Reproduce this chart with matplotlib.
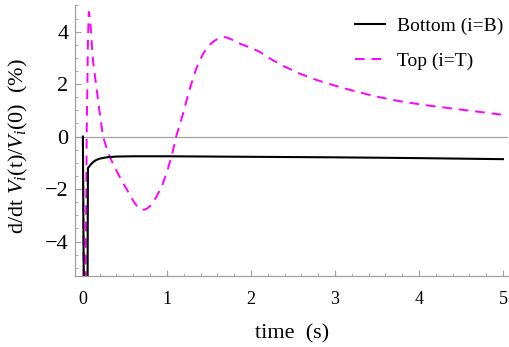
import matplotlib
matplotlib.use("Agg")
import matplotlib.pyplot as plt
from matplotlib.ticker import MultipleLocator

plt.rcParams["font.family"] = ["Liberation Serif", "DejaVu Serif"]
plt.rcParams["mathtext.fontset"] = "custom"
plt.rcParams["mathtext.rm"] = "Liberation Serif"
plt.rcParams["mathtext.it"] = "Liberation Serif:italic"

# Bottom (i=B), values in %
t_bottom = [0, 0.012, 0.055, 0.06, 0.08, 0.10, 0.13, 0.16, 0.20, 0.28, 0.40,
            0.60, 1.0, 1.5, 2.0, 3.0, 4.0, 5.0]
v_bottom = [0, -6.5, -6.5, -1.2, -1.12, -1.04, -0.95, -0.89, -0.84, -0.79, -0.76,
            -0.75, -0.75, -0.76, -0.77, -0.79, -0.82, -0.86]

# Top (i=T)
t_top = [0, 0.012, 0.03, 0.045, 0.06, 0.07, 0.085, 0.10, 0.12, 0.16, 0.20, 0.24,
         0.28, 0.32, 0.36, 0.44, 0.52, 0.60, 0.65, 0.70, 0.75, 0.80, 0.86, 0.94,
         1.0, 1.06, 1.11, 1.19, 1.27, 1.35, 1.43, 1.47, 1.53, 1.57, 1.63, 1.67,
         1.71, 1.80, 1.87, 2.0, 2.11, 2.24, 2.38, 2.58, 2.78, 2.98, 3.18, 3.47,
         3.77, 4.07, 4.37, 4.70, 5.0]
v_top = [0, -6.5, -6.5, 0.0, 3.6, 4.75, 4.5, 3.8, 2.9, 1.9, 0.9, 0.0,
         -0.42, -0.76, -1.05, -1.55, -2.0, -2.45, -2.68, -2.79, -2.77, -2.65, -2.38, -1.9,
         -1.35, -0.7, 0.0, 0.85, 1.8, 2.6, 3.15, 3.35, 3.56, 3.66, 3.76, 3.79,
         3.78, 3.66, 3.54, 3.38, 3.22, 2.95, 2.70, 2.40, 2.16, 1.96, 1.78, 1.54,
         1.35, 1.20, 1.08, 0.95, 0.83]

fig = plt.figure(figsize=(5.09, 3.47), dpi=100)
ax = fig.add_axes([0.148, 0.2055, 0.85, 0.779])

ax.axhline(0, color="#a0a0a0", lw=0.9, zorder=1)
ax.plot(t_bottom, v_bottom, color="black", lw=1.5, label="Bottom (i=B)", zorder=3)
ax.plot(t_top, v_top, color="#ff00ff", lw=1.4, dashes=(5, 3.5),
        label="Top (i=T)", zorder=2)

ax.set_xlim(-0.09, 5.06)
ax.set_ylim(-5.3, 5.0)

for side in ["top", "right"]:
    ax.spines[side].set_visible(False)
for side in ["left", "bottom"]:
    ax.spines[side].set_color("#a0a0a0")
    ax.spines[side].set_linewidth(0.9)

ax.xaxis.set_major_locator(MultipleLocator(1))
ax.xaxis.set_minor_locator(MultipleLocator(0.2))
ax.yaxis.set_major_locator(MultipleLocator(2))
ax.yaxis.set_minor_locator(MultipleLocator(0.5))
ax.tick_params(which="both", direction="in", color="#a0a0a0", labelcolor="black")
ax.tick_params(which="major", length=4, width=0.8)
ax.tick_params(which="minor", length=2.5, width=0.6)
ax.tick_params(axis="x", labelsize=13, pad=11)
ax.tick_params(axis="y", labelsize=16, pad=5)

ax.set_xlabel("time  (s)", fontsize=16)
ax.set_ylabel(r"d/dt $V_i$(t)/$V_i$(0)  (%)", fontsize=16)
ax.xaxis.set_label_coords(0.5, -0.18)
ax.yaxis.set_label_coords(-0.105, 0.478)

ax.legend(loc="upper left", bbox_to_anchor=(355 / 509, 1 - 17 / 347),
          bbox_transform=fig.transFigure, frameon=False, fontsize=14,
          borderpad=0, borderaxespad=0, handlelength=1.55, handletextpad=0.6,
          labelspacing=0.9)

fig.savefig("out.png", dpi=100)
